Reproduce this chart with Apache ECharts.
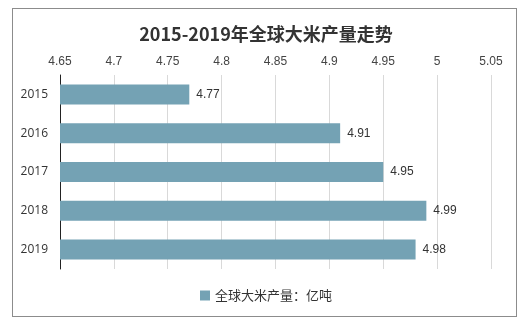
<!DOCTYPE html>
<html><head><meta charset="utf-8">
<script src="https://cdn.jsdelivr.net/npm/echarts@6/dist/echarts.min.js"></script>
<style>html,body{margin:0;padding:0;background:#fff}#c{width:532px;height:325px}
#b{position:absolute;left:12px;top:8px;width:505px;height:309px;border:1px solid #8c8c8c;box-sizing:border-box;pointer-events:none}</style>
</head><body><div id="c"></div><div id="b"></div>
<script>
var categories = ['2015','2016','2017','2018','2019'];
var values = [4.77, 4.91, 4.95, 4.99, 4.98];
var seriesName = '全球大米产量：亿吨';
var titleText = '2015-2019年全球大米产量走势';
var chart = echarts.init(document.getElementById('c'));
chart.setOption({
  animation:false,
  title:{text:titleText,left:'center',top:20,textStyle:{fontFamily:'Noto Sans CJK SC',fontSize:18,fontWeight:'bold',color:'#333'}},
  legend:{bottom:18,left:'center',itemWidth:10,itemHeight:10,icon:'rect',itemGap:3,
    textStyle:{fontFamily:'Noto Sans CJK SC',fontSize:13,color:'#333'}},
  grid:{left:60,right:41,top:75,bottom:56,containLabel:false},
  xAxis:{type:'value',position:'top',min:4.65,max:5.05,interval:0.05,
    axisLine:{show:false},axisTick:{show:false},
    axisLabel:{fontFamily:'Liberation Sans',fontSize:12,color:'#444',margin:7,formatter:function(v){return String(+v.toFixed(2));}},
    splitLine:{lineStyle:{color:'#d9d9d9'}}},
  yAxis:{type:'category',data:categories,inverse:true,
    axisLine:{lineStyle:{color:'#222'}},axisTick:{show:false},
    axisLabel:{fontFamily:'Open Sans',fontSize:12,color:'#333',margin:12}},
  series:[{name:seriesName,type:'bar',data:values,barWidth:20,
    itemStyle:{color:'#74a2b4'},
    label:{show:true,position:'right',distance:7,fontFamily:'Liberation Sans',fontSize:12,color:'#333'}}]
});
</script></body></html>
